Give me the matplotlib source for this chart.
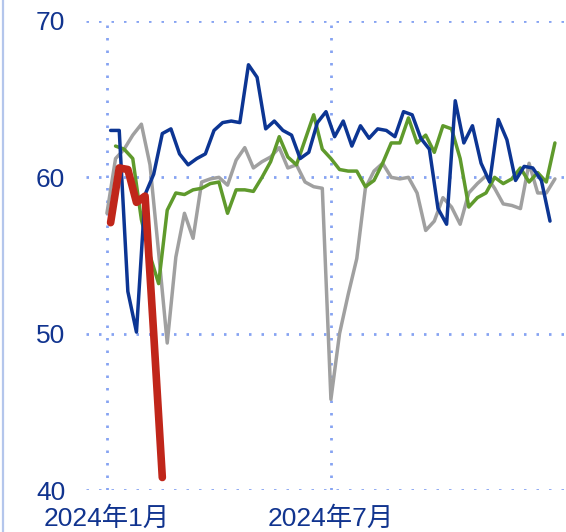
import matplotlib
matplotlib.use("Agg")
import matplotlib.pyplot as plt
import matplotlib.dates as mdates
import numpy as np
import pandas as pd
from matplotlib.lines import Line2D

# ---- data (weekly index readings) ----
gray_start = "2024-01-01"
gray_vals = [57.7, 61.2, 61.8, 62.7, 63.4, 60.8, 55.2, 49.4, 54.9, 57.7,
             56.1, 59.7, 59.9, 60.0, 59.5, 61.1, 61.9, 60.6, 61.0, 61.3,
             61.9, 60.6, 60.8, 59.7, 59.4, 59.3, 45.8, 50.0, 52.5, 54.8,
             59.3, 60.4, 60.9, 60.0, 59.9, 60.0, 59.0, 56.6, 57.2, 58.7,
             58.1, 57.0, 59.0, 59.6, 60.1, 59.3, 58.3, 58.2, 58.0, 60.9,
             59.0, 59.0, 59.9]

green_start = "2024-01-08"
green_vals = [62.0, 61.8, 61.2, 57.3, 55.0, 53.2, 57.9, 59.0, 58.9, 59.2,
              59.3, 59.6, 59.7, 57.7, 59.2, 59.2, 59.1, 60.0, 61.0, 62.6,
              61.3, 60.8, 62.4, 64.0, 61.8, 61.2, 60.5, 60.4, 60.4, 59.4,
              59.8, 60.9, 62.2, 62.2, 63.8, 62.2, 62.7, 61.6, 63.3, 63.1,
              61.2, 58.1, 58.7, 59.0, 60.0, 59.6, 59.9, 60.6, 59.7, 60.3,
              59.7, 62.2]

blue_start = "2024-01-04"
blue_vals = [63.0, 63.0, 52.7, 50.1, 58.9, 60.2, 62.8, 63.1, 61.5, 60.8,
             61.2, 61.5, 63.0, 63.5, 63.6, 63.5, 67.2, 66.4, 63.1, 63.6,
             63.0, 62.7, 61.2, 61.6, 63.5, 64.2, 62.6, 63.6, 62.0, 63.3,
             62.5, 63.1, 63.0, 62.6, 64.2, 64.0, 62.5, 61.8, 58.0, 57.0,
             64.9, 62.2, 63.3, 60.9, 59.7, 63.7, 62.4, 59.8, 60.7, 60.6,
             59.8, 57.2]

red_start = "2024-01-04"
red_vals = [57.1, 60.6, 60.5, 58.4, 58.8, 50.0, 40.8]

tick_dates = ["2024-01-01", "2024-07-01"]
tick_labels = ["2024年1月", "2024年7月"]
y_ticks = [40, 50, 60, 70]

# ---- figure ----
plt.rcParams['font.family'] = ['Liberation Sans', 'Noto Sans CJK SC', 'DejaVu Sans']
W, H = 566, 532
fig = plt.figure(figsize=(W / 100, H / 100), dpi=100)
ax = fig.add_axes([86 / W, 42 / H, (W - 86) / W, (490 - 21) / H])

def weekly(start, vals):
    return pd.date_range(start, periods=len(vals), freq="7D")

grid_color = "#86a3f2"
dot = (0, (0.9, 3.6))

series = [
    (gray_start, gray_vals, "#a0a0a0", 2.5, 2),
    (green_start, green_vals, "#5f9a2c", 2.5, 3),
    (blue_start, blue_vals, "#0c3593", 2.5, 4),
    (red_start, red_vals, "#c0261a", 5.5, 5),
]
for start, vals, col, lw, z in series:
    ax.plot(weekly(start, vals), vals, color=col, lw=lw, zorder=z,
            solid_joinstyle="round", solid_capstyle="round", clip_on=False)

ax.set_ylim(40, 70)
ax.set_xlim(pd.Timestamp("2023-12-15"), pd.Timestamp("2025-01-08"))
ax.set_yticks(y_ticks)
ax.set_xticks(pd.to_datetime(tick_dates))
ax.set_xticklabels(tick_labels)

for y in y_ticks:
    ax.axhline(y, color=grid_color, lw=2.0, linestyle=dot, zorder=1)
for d in pd.to_datetime(tick_dates):
    ax.axvline(d, color=grid_color, lw=2.0, linestyle=dot, zorder=1)

for s in ax.spines.values():
    s.set_visible(False)
ax.tick_params(axis="both", length=0, labelsize=19, colors="#11348f")
ax.tick_params(axis="y", pad=15)
ax.tick_params(axis="x", pad=12)

fig.add_artist(Line2D([3 / W, 3 / W], [0, 1], color="#b4c6ec", lw=1.6,
                      transform=fig.transFigure))

fig.savefig("out.png", dpi=100)
